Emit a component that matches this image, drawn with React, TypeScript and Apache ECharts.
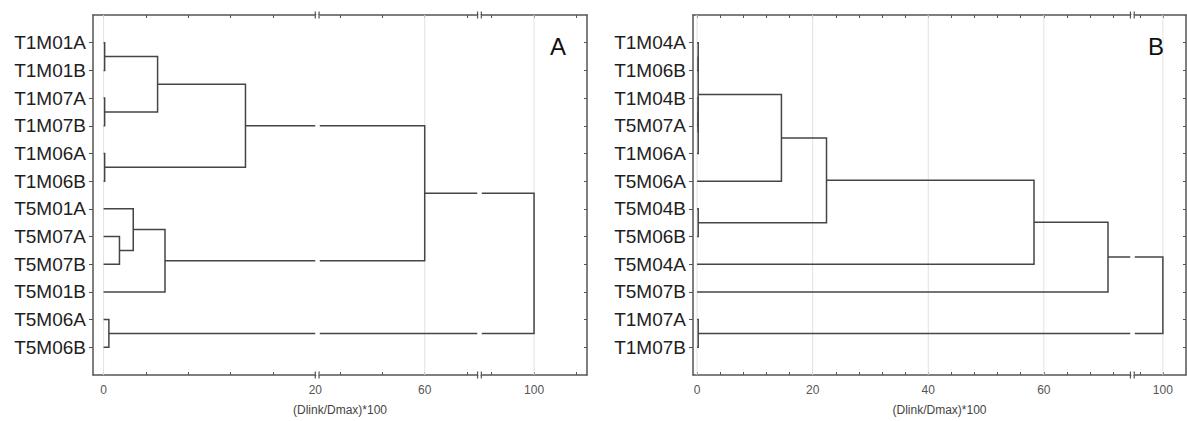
import React, { useEffect, useRef } from 'react';
import * as echarts from 'echarts';

// ---------- data ----------
const leavesA = ['T1M01A', 'T1M01B', 'T1M07A', 'T1M07B', 'T1M06A', 'T1M06B', 'T5M01A', 'T5M07A', 'T5M07B', 'T5M01B', 'T5M06A', 'T5M06B'];
// merges: [childA, childB, linkage distance]; child < n -> leaf index, otherwise n + merge index
const mergesA: [number, number, number][] = [
  [0, 1, 0.1],
  [2, 3, 0.1],
  [12, 13, 5.1],
  [4, 5, 0.1],
  [14, 15, 13.4],
  [7, 8, 1.5],
  [6, 17, 2.8],
  [18, 9, 5.8],
  [16, 19, 60],
  [10, 11, 0.5],
  [20, 21, 100],
];

const leavesB = ['T1M04A', 'T1M06B', 'T1M04B', 'T5M07A', 'T1M06A', 'T5M06A', 'T5M04B', 'T5M06B', 'T5M04A', 'T5M07B', 'T1M07A', 'T1M07B'];
const mergesB: [number, number, number][] = [
  [0, 1, 0.2],
  [2, 3, 0.2],
  [13, 4, 0.2],
  [12, 14, 0.2],
  [15, 5, 14.6],
  [6, 7, 0.2],
  [16, 17, 22.4],
  [18, 8, 58.3],
  [19, 9, 71.1],
  [10, 11, 0.2],
  [20, 21, 100],
];

const labelTicksA = [0, 20, 60, 100];
const labelTicksB = [0, 20, 40, 60, 100];
const minorTicksA = [0, 4, 8, 12, 16, 20, 52, 56, 60, 64, 96, 100, 104];
const minorTicksB = [0, 4, 8, 12, 16, 20, 24, 28, 32, 36, 40, 44, 48, 52, 56, 60, 64, 68, 72, 96, 100];
const gridValsA = [0, 60, 100];
const gridValsB = [0, 20, 40, 60, 100];
const breaksA: [number, number][] = [[20, 50], [65, 95]];
const breaksB: [number, number][] = [[75, 95]];
const axisTitle = '(Dlink/Dmax)*100';
const panelLetters = ['A', 'B'];

// ---------- helpers ----------
const FONT = '"Liberation Sans", Arial, sans-serif';
const FRAME = '#555';
const LINE = '#454545';

function dendroLines(n: number, merges: [number, number, number][]) {
  const ys: number[] = [];
  const hs: number[] = [];
  for (let i = 0; i < n; i++) { ys[i] = i; hs[i] = 0; }
  const out: { coords: number[][] }[] = [];
  merges.forEach(([a, b, h], k) => {
    const id = n + k;
    ys[id] = (ys[a] + ys[b]) / 2;
    hs[id] = h;
    out.push({ coords: [[hs[a], ys[a]], [h, ys[a]], [h, ys[b]], [hs[b], ys[b]]] });
  });
  return out;
}

const Y_MIN = -1;
const Y_MAX = 12;
const rows = Array.from({ length: 12 }, (_, i) => i);

function gridLines(vals: number[]) {
  return vals.map((v) => ({ coords: [[v, Y_MIN], [v, Y_MAX]] }));
}

function breakMarks(brks: [number, number][]) {
  const pts: number[][] = [];
  brks.forEach(([s]) => { pts.push([s, Y_MIN]); pts.push([s, Y_MAX]); });
  return pts;
}

function makeX(grid: number, pos: 'top' | 'bottom', min: number, max: number, brks: [number, number][], labels: number[], minor: number[]) {
  const bottom = pos === 'bottom';
  return {
    type: 'value',
    gridIndex: grid,
    position: pos,
    min,
    max,
    breaks: brks.map(([s, e]) => ({ start: s, end: e, gap: '0.7%' })),
    breakArea: {
      show: true,
      itemStyle: { color: '#fff', borderColor: 'rgba(0,0,0,0)', borderWidth: 0, opacity: 1 },
      zigzagAmplitude: 0,
      zigzagZ: 100,
      expandOnClick: false,
    },
    axisLine: { show: true, onZero: false, lineStyle: { color: FRAME, width: 1.5 } },
    axisTick: { show: true, customValues: minor, inside: true, length: 3, lineStyle: { color: FRAME, width: 1 } },
    axisLabel: bottom
      ? { show: true, customValues: labels, fontSize: 12, color: '#555', fontFamily: FONT, margin: 9 }
      : { show: false },
    splitLine: { show: false },
    name: bottom ? axisTitle : '',
    nameLocation: 'middle',
    nameGap: 29,
    nameTextStyle: { fontSize: 12, color: '#444', fontFamily: FONT },
  };
}

function makeY(grid: number, pos: 'left' | 'right', leaves: string[]) {
  const left = pos === 'left';
  return {
    type: 'value',
    gridIndex: grid,
    position: pos,
    inverse: true,
    min: Y_MIN,
    max: Y_MAX,
    axisLine: { show: true, onZero: false, lineStyle: { color: FRAME, width: 1.5 } },
    axisTick: { show: true, customValues: rows, inside: !left, length: left ? 4 : 3, lineStyle: { color: FRAME, width: 1 } },
    axisLabel: left
      ? {
          show: true,
          customValues: rows,
          formatter: (v: number) => leaves[Math.round(v)] ?? '',
          fontSize: 19,
          color: '#1e1e1e',
          fontFamily: FONT,
          margin: 7,
        }
      : { show: false },
    splitLine: { show: false },
  };
}

function breakSeries(xi: number, yi: number, brks: [number, number][]) {
  return {
    type: 'scatter', xAxisIndex: xi, yAxisIndex: yi, z: 200, silent: true, clip: false,
    symbol: 'path://M0,0h1.2v10h-1.2zM3.8,0h1.2v10h-1.2z',
    symbolSize: [5, 7],
    symbolOffset: [1.8, 0],
    itemStyle: { color: FRAME, opacity: 1 },
    data: breakMarks(brks),
  };
}

export default function App() {
  const ref = useRef<HTMLDivElement>(null);
  useEffect(() => {
    if (!ref.current) return;
    const chart = echarts.init(ref.current, undefined, { renderer: 'svg' });
    const letterStyle = { fontSize: 24, fontWeight: 'normal', color: '#111', fontFamily: FONT };
    const option = {
      animation: false,
      backgroundColor: '#fff',
      title: [
        { text: panelLetters[0], left: 545, top: 29, textStyle: letterStyle },
        { text: panelLetters[1], left: 1143, top: 29, textStyle: letterStyle },
      ],
      grid: [
        { left: 93, top: 15, width: 494, height: 362, containLabel: false },
        { left: 693, top: 15, width: 493, height: 362, containLabel: false },
      ],
      xAxis: [
        makeX(0, 'bottom', -1, 105, breaksA, labelTicksA, minorTicksA),
        makeX(0, 'top', -1, 105, breaksA, labelTicksA, minorTicksA),
        makeX(1, 'bottom', -0.7, 104, breaksB, labelTicksB, minorTicksB),
        makeX(1, 'top', -0.7, 104, breaksB, labelTicksB, minorTicksB),
      ],
      yAxis: [
        makeY(0, 'left', leavesA),
        makeY(0, 'right', leavesA),
        makeY(1, 'left', leavesB),
        makeY(1, 'right', leavesB),
      ],
      series: [
        {
          type: 'lines', coordinateSystem: 'cartesian2d', polyline: true, xAxisIndex: 0, yAxisIndex: 0, z: 1, silent: true,
          lineStyle: { color: '#e2e2e2', width: 1, opacity: 1 },
          data: gridLines(gridValsA),
        },
        {
          type: 'lines', coordinateSystem: 'cartesian2d', polyline: true, xAxisIndex: 2, yAxisIndex: 2, z: 1, silent: true,
          lineStyle: { color: '#e2e2e2', width: 1, opacity: 1 },
          data: gridLines(gridValsB),
        },
        {
          type: 'lines', coordinateSystem: 'cartesian2d', polyline: true, xAxisIndex: 0, yAxisIndex: 0, z: 3, silent: true,
          lineStyle: { color: LINE, width: 1.5, opacity: 1 },
          data: dendroLines(leavesA.length, mergesA),
        },
        {
          type: 'lines', coordinateSystem: 'cartesian2d', polyline: true, xAxisIndex: 2, yAxisIndex: 2, z: 3, silent: true,
          lineStyle: { color: LINE, width: 1.5, opacity: 1 },
          data: dendroLines(leavesB.length, mergesB),
        },
        breakSeries(0, 0, breaksA),
        breakSeries(2, 2, breaksB),
      ],
    };
    chart.setOption(option as any);
    return () => chart.dispose();
  }, []);
  return <div ref={ref} style={{ position: 'fixed', left: 0, top: 0, width: 1187, height: 421 }} />;
}
